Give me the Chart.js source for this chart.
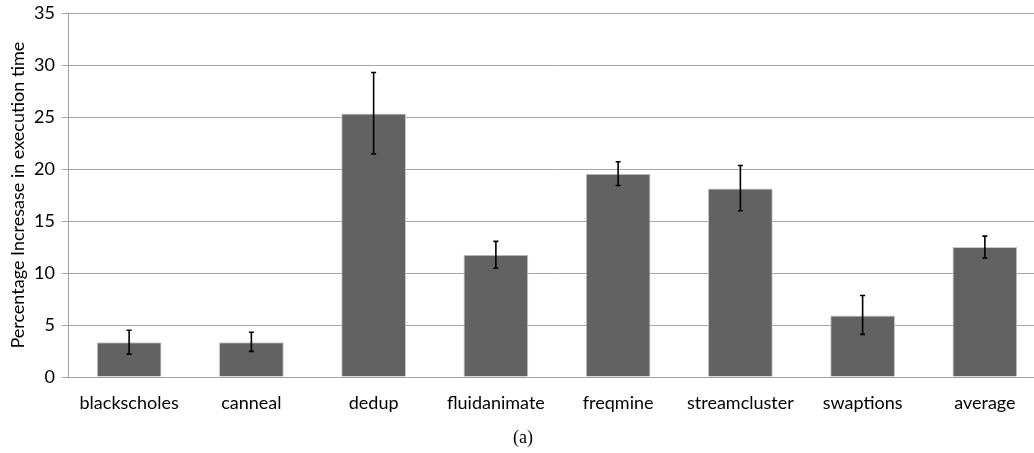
<!DOCTYPE html>
<html>
<head>
<meta charset="utf-8">
<script src="https://cdn.jsdelivr.net/npm/chart.js@4/dist/chart.umd.min.js"></script>
<style>
html,body{margin:0;padding:0;background:#fff;overflow:hidden;}
#wrap{position:absolute;left:0;top:0;width:1064px;height:453px;}
</style>
</head>
<body>
<div id="wrap"><canvas id="c"></canvas></div>
<script>
const categories = ["blackscholes","canneal","dedup","fluidanimate","freqmine","streamcluster","swaptions","average"];
const values     = [3.35, 3.35, 25.35, 11.77, 19.55, 18.15, 5.93, 12.5];
const errorUpper = [4.5, 4.3, 29.3, 13.05, 20.72, 20.35, 7.84, 13.56];
const errorLower = [2.2, 2.47, 21.47, 10.46, 18.43, 16.0, 4.1, 11.45];
const yTicks     = [0, 5, 10, 15, 20, 25, 30, 35];
const yTitle     = "Percentage Incresase in execution time";
const caption    = "(a)";

const errorBars = {
  id: 'errorBars',
  afterDatasetsDraw(chart) {
    const ctx = chart.ctx;
    const meta = chart.getDatasetMeta(0);
    const y = chart.scales.y;
    ctx.save();
    ctx.strokeStyle = '#000';
    ctx.lineWidth = 1.6;
    meta.data.forEach((bar, i) => {
      const x = bar.x;
      const yt = y.getPixelForValue(errorUpper[i]);
      const yb = y.getPixelForValue(errorLower[i]);
      ctx.beginPath();
      ctx.moveTo(x, yt); ctx.lineTo(x, yb);
      ctx.moveTo(x - 2.5, yt); ctx.lineTo(x + 2.5, yt);
      ctx.moveTo(x - 2.5, yb); ctx.lineTo(x + 2.5, yb);
      ctx.stroke();
    });
    ctx.restore();
  }
};

new Chart(document.getElementById('c'), {
  type: 'bar',
  data: {
    labels: categories,
    datasets: [{
      data: values,
      backgroundColor: '#626262',
      borderColor: '#c8c8c8',
      borderWidth: 1,
      barPercentage: 0.53,
      categoryPercentage: 1
    }]
  },
  options: {
    responsive: true,
    maintainAspectRatio: false,
    animation: false,
    layout: { padding: { left: 0, right: 18, top: 0, bottom: 0 } },
    plugins: {
      legend: { display: false },
      tooltip: { enabled: false },
      title: {
        display: true,
        text: caption,
        position: 'bottom',
        color: '#000',
        font: { family: "'Liberation Serif', 'DejaVu Serif', serif", size: 18, weight: 'normal' },
        padding: { top: 6, bottom: 4 }
      }
    },
    scales: {
      x: {
        afterFit(scale) { scale.height = 44.4; },
        grid: { display: false, drawTicks: false },
        border: { display: true, color: '#a0a0a0', width: 1 },
        ticks: { color: '#000', font: { family: 'Lato', size: 18 }, padding: 15, maxRotation: 0, autoSkip: false }
      },
      y: {
        min: 0, max: 35,
        afterBuildTicks(scale) { scale.ticks = yTicks.map(v => ({ value: v })); },
        afterFit(scale) { scale.width = 68; },
        grid: { color: '#a6a6a6', lineWidth: 1, tickLength: 6, drawTicks: true },
        border: { display: true, color: '#a0a0a0', width: 1 },
        ticks: { color: '#000', font: { family: 'Lato', size: 18, lineHeight: 0.7 }, padding: 7 },
        title: {
          display: true,
          text: yTitle,
          color: '#000',
          font: { family: 'Lato', size: 18 },
          padding: { top: 7, bottom: 0 }
        }
      }
    }
  },
  plugins: [errorBars]
});
</script>
</body>
</html>
